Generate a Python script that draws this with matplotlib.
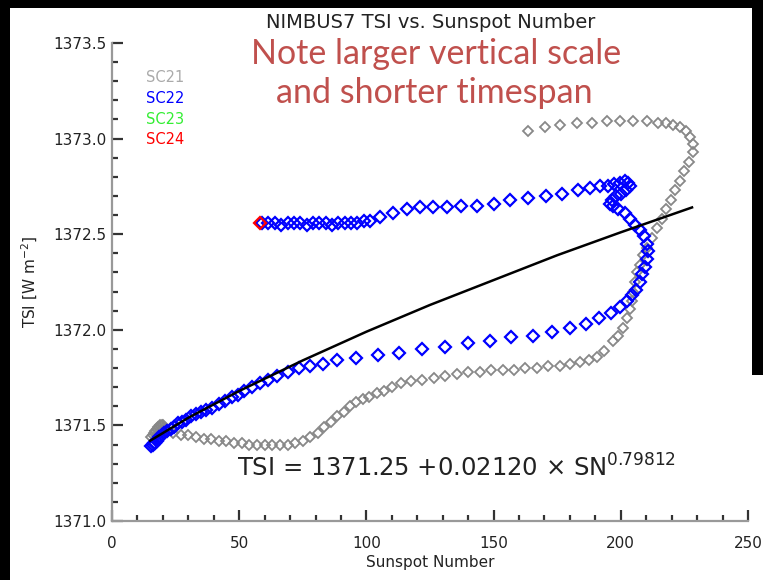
import matplotlib
matplotlib.use("Agg")
import matplotlib.pyplot as plt
from matplotlib.patches import Rectangle
from matplotlib.ticker import MultipleLocator, FormatStrFormatter

# ---------------- data ----------------
sc21_sn = [15.5, 16.0, 16.5, 17.0, 17.5, 18.0, 18.5, 19.0, 19.5, 20.0, 20.5, 21.0, 17.5, 18.5, 19.5, 20.5, 22.0,
           24, 27, 30, 33, 36, 39, 42, 45, 48, 51, 54, 57, 60, 63, 66, 69, 72, 75,
           78, 81, 83.5, 86, 88.5, 91, 93.5, 96, 98.5, 101, 104, 107, 110, 113.5,
           117.5, 122, 126.5, 131, 135.5, 140, 144.5, 149, 153.5, 158, 162.5, 167,
           171.5, 176, 180, 184, 187.5, 190.5,
           193.5, 196.9, 199, 200.9, 202.4, 203.6, 204.3, 204.8, 205.6, 206.4,
           207.5, 208.7, 210.3, 212.3, 214.2, 216, 217.8, 219.6, 221.5, 223.2,
           225, 226.8, 228.2, 228.3, 227.2, 225.5, 223.3, 220.5, 217.8, 214.6,
           210.3, 204.8, 199.7, 194.6, 188.7, 182.8, 176.1, 170.2, 163.5]
sc21_tsi = [1371.44, 1371.45, 1371.46, 1371.47, 1371.48, 1371.49, 1371.49, 1371.50, 1371.50, 1371.50, 1371.49, 1371.48,
            1371.45, 1371.46, 1371.47, 1371.47, 1371.47,
            1371.46, 1371.45, 1371.45, 1371.44, 1371.43, 1371.43, 1371.42, 1371.42, 1371.41, 1371.41,
            1371.40, 1371.40, 1371.40, 1371.40, 1371.40, 1371.40, 1371.41, 1371.42,
            1371.44, 1371.46, 1371.49, 1371.52, 1371.55, 1371.57, 1371.60, 1371.62, 1371.64, 1371.65,
            1371.67, 1371.68, 1371.70, 1371.72,
            1371.73, 1371.74, 1371.75, 1371.76, 1371.77, 1371.78, 1371.78, 1371.79, 1371.79, 1371.79,
            1371.80, 1371.80, 1371.81, 1371.81, 1371.82, 1371.83, 1371.84, 1371.86,
            1371.89, 1371.94, 1371.97, 1372.01, 1372.06, 1372.11, 1372.15, 1372.20, 1372.25, 1372.30,
            1372.34, 1372.39, 1372.43, 1372.48, 1372.53, 1372.58, 1372.63, 1372.68, 1372.73, 1372.78,
            1372.83, 1372.88, 1372.93, 1372.97, 1373.01, 1373.04, 1373.06, 1373.07, 1373.08, 1373.08,
            1373.09, 1373.09, 1373.09, 1373.09, 1373.08, 1373.08, 1373.07, 1373.06, 1373.04]

sc22_sn = [15.5, 16, 16.5, 17, 17.5, 18, 18.5, 19.5, 20.5, 21.5,
           23, 24.5, 26, 27.5, 29, 31, 33, 35, 37, 39.5, 42, 44.5, 47, 49.5, 52, 55, 58,
           61.5, 65, 69, 73.5, 78, 83, 88.5, 96, 104.5, 113, 122, 131, 140, 148.5, 157,
           165.5, 173, 180, 186.5, 191.5, 196, 199.5, 202.5, 204.5, 206, 207.5, 208.5,
           209.5, 210.3, 210.6, 210.2, 209, 207.5, 205.5, 203.5, 201.5, 199, 197, 195.8,
           196.5, 198, 200, 202, 203.5, 203, 201.5, 199.5, 197.5, 195, 192, 188, 183,
           177, 170.5, 163.5, 156.5, 150, 143.5, 137, 131.5, 126, 121, 116, 110.5,
           105.5, 101.5, 99, 96.5, 94, 91.5, 89, 86.5, 84, 81.5, 79, 76.5, 74, 71.5,
           69, 66.5, 64, 61.5, 59]
sc22_tsi = [1371.39, 1371.40, 1371.41, 1371.41, 1371.42, 1371.43, 1371.44, 1371.45, 1371.46, 1371.47,
            1371.48, 1371.49, 1371.51, 1371.52, 1371.53, 1371.55, 1371.56, 1371.57, 1371.58, 1371.59,
            1371.61, 1371.63, 1371.65, 1371.66, 1371.68, 1371.70, 1371.72,
            1371.74, 1371.76, 1371.78, 1371.80, 1371.81, 1371.82, 1371.84, 1371.85, 1371.87, 1371.88,
            1371.90, 1371.91, 1371.93, 1371.94, 1371.96,
            1371.97, 1371.99, 1372.01, 1372.03, 1372.06, 1372.09, 1372.12, 1372.15, 1372.18, 1372.21,
            1372.25, 1372.29, 1372.33, 1372.37, 1372.41, 1372.45, 1372.49, 1372.52, 1372.55, 1372.58,
            1372.61, 1372.63, 1372.65, 1372.66,
            1372.68, 1372.70, 1372.71, 1372.73, 1372.75, 1372.77, 1372.78, 1372.77, 1372.76, 1372.75,
            1372.75, 1372.74, 1372.73, 1372.71, 1372.70, 1372.69, 1372.68, 1372.66, 1372.65, 1372.65,
            1372.64, 1372.64, 1372.64, 1372.63, 1372.61, 1372.59, 1372.57, 1372.57, 1372.56, 1372.56,
            1372.56, 1372.56, 1372.55, 1372.56, 1372.56, 1372.56, 1372.55, 1372.56, 1372.56, 1372.56,
            1372.55, 1372.56, 1372.56, 1372.56]

sc24_sn = [58.2]
sc24_tsi = [1372.56]

fit_sn = [15, 30, 50, 75, 100, 125, 150, 175, 200, 228]
fit_tsi = [1371.42, 1371.54, 1371.68, 1371.84, 1371.99, 1372.13, 1372.26, 1372.39, 1372.51, 1372.64]

legend_labels = ["SC21", "SC22", "SC23", "SC24"]
legend_colors = ["#aaaaaa", "#0000ff", "#33ee33", "#ff0000"]

x_ticks = [0, 50, 100, 150, 200, 250]
y_ticks = [1371.0, 1371.5, 1372.0, 1372.5, 1373.0, 1373.5]

title = "NIMBUS7 TSI vs. Sunspot Number"
note_lines = ["Note larger vertical scale", "and shorter timespan"]
equation = "TSI = 1371.25 +0.02120 \u00d7 SN$^{0.79812}$"

# ---------------- figure ----------------
W, H = 763, 580
fig = plt.figure(figsize=(W / 100, H / 100), dpi=100, facecolor="black")

def fx(px):
    return px / W

def fy(py):
    return 1 - py / H

# white page, with black frame at top, left and upper right
fig.add_artist(Rectangle((fx(10), 0), fx(752) - fx(10), fy(8), transform=fig.transFigure,
                         facecolor="white", edgecolor="none", zorder=-10))
fig.add_artist(Rectangle((fx(751), 0), fx(763) - fx(751), fy(375), transform=fig.transFigure,
                         facecolor="white", edgecolor="none", zorder=-10))

ax = fig.add_axes([fx(112), fy(521), fx(748) - fx(112), fy(43) - fy(521)])
ax.set_facecolor("none")
ax.set_xlim(0, 250)
ax.set_ylim(1371.0, 1373.5)

for s in ["top", "right"]:
    ax.spines[s].set_visible(False)
for s in ["left", "bottom"]:
    ax.spines[s].set_color("#999999")
    ax.spines[s].set_linewidth(1.6)

ax.set_xticks(x_ticks)
ax.set_yticks(y_ticks)
ax.xaxis.set_minor_locator(MultipleLocator(10))
ax.yaxis.set_minor_locator(MultipleLocator(0.1))
ax.yaxis.set_major_formatter(FormatStrFormatter("%.1f"))
ax.tick_params(which="major", direction="in", length=8, width=1.6, color="#333333",
               labelsize=11, labelcolor="#222222")
ax.tick_params(which="minor", direction="in", length=4, width=1.6, color="#333333")
ax.tick_params(axis="x", pad=11)
ax.tick_params(axis="y", pad=4)

ax.plot(sc21_sn, sc21_tsi, linestyle="none", marker="D", markersize=5.5,
        markerfacecolor="none", markeredgecolor="#888888", markeredgewidth=1.3, zorder=2)
ax.plot(sc22_sn, sc22_tsi, linestyle="none", marker="D", markersize=6,
        markerfacecolor="none", markeredgecolor="#0000ff", markeredgewidth=1.6, zorder=3)
ax.plot(fit_sn, fit_tsi, color="black", linewidth=1.8, zorder=4)
ax.plot(sc24_sn, sc24_tsi, linestyle="none", marker="D", markersize=6,
        markerfacecolor="none", markeredgecolor="#ff0000", markeredgewidth=1.6, zorder=5)

# legend-like labels
for i, (lab, col) in enumerate(zip(legend_labels, legend_colors)):
    fig.text(fx(146), fy(78 + 20.5 * i), lab, color=col, fontsize=10.5,
             ha="left", va="center")

fig.text(fx(431), fy(23), title, fontsize=14, color="#222222", ha="center", va="center")
fig.text(fx(436), fy(54), note_lines[0], fontsize=24.5, family="Lato", color="#c0504d",
         ha="center", va="center")
fig.text(fx(434), fy(93), note_lines[1], fontsize=24.5, family="Lato", color="#c0504d",
         ha="center", va="center")

fig.text(fx(237), fy(468), equation, fontsize=17.5, color="#222222", ha="left", va="center")

fig.text(fx(430), fy(562), "Sunspot Number", fontsize=11, color="#222222",
         ha="center", va="center")
fig.text(fx(30), fy(282), "TSI [W m$^{-2}$]", fontsize=11, color="#222222",
         ha="center", va="center", rotation=90)

fig.savefig("out.png", dpi=100, facecolor=fig.get_facecolor())
